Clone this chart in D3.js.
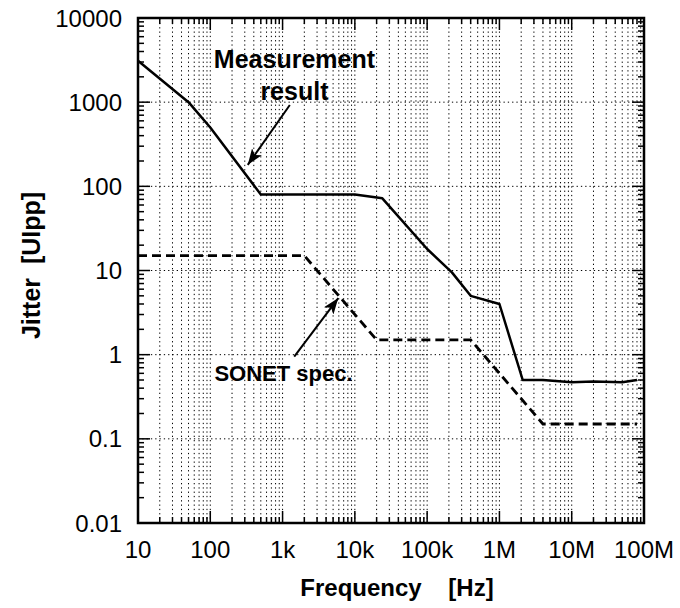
<!DOCTYPE html>
<html>
<head>
<meta charset="utf-8">
<script src="https://cdn.jsdelivr.net/npm/d3@7"></script>
<style>
  body { margin: 0; background: #fff; }
  text { font-family: "Liberation Sans", Arial, sans-serif; fill: #000; }
</style>
</head>
<body>
<div class="visual"></div>
<script>
// measured jitter tolerance
const freqMeas = [10, 50, 100, 500, 10000, 24000, 100000, 220000, 400000, 1e6, 2.1e6, 4e6, 1e7, 2e7, 5e7, 8e7];
const jitterMeas = [3100, 1000, 500, 80, 80, 72, 18, 9.5, 5, 4, 0.5, 0.5, 0.47, 0.48, 0.47, 0.5];

// SONET mask
const freqSonet = [10, 2000, 20000, 400000, 4e6, 8e7];
const jitterSonet = [15, 15, 1.5, 1.5, 0.15, 0.15];

const xTicks = [10, 100, 1e3, 1e4, 1e5, 1e6, 1e7, 1e8];
const xTickLabels = ["10", "100", "1k", "10k", "100k", "1M", "10M", "100M"];
const yTicks = [0.01, 0.1, 1, 10, 100, 1000, 10000];
const yTickLabels = ["0.01", "0.1", "1", "10", "100", "1000", "10000"];

// annotations in data coordinates: [freq, jitter]
const noteMeasText = ["Measurement", "result"];
const noteMeasPos = [[1460, 2550], [1460, 1060]];
const noteMeasArrow = [[1260, 925], [330, 180]];
const noteSonetText = "SONET spec.";
const noteSonetPos = [1030, 0.49];
const noteSonetArrow = [[1450, 0.95], [5900, 4.7]];

const width = 680, height = 608;
const margin = { left: 138, top: 18, right: 36, bottom: 85 };

const svg = d3.select(".visual").append("svg")
    .attr("width", width)
    .attr("height", height);

const x = d3.scaleLog().domain([10, 1e8]).range([margin.left, width - margin.right]);
const y = d3.scaleLog().domain([0.01, 10000]).range([height - margin.bottom, margin.top]);

const x0 = x.range()[0], x1 = x.range()[1];
const y0 = y.range()[0], y1 = y.range()[1];

// minor positions
const xMinor = [];
for (let d = 10; d < 1e8; d *= 10) {
    for (let k = 1; k <= 9; k++) xMinor.push(d * k);
}
xMinor.push(1e8);
const yMinor = [];
for (let d = 0.01; d < 10000; d *= 10) {
    for (let k = 1; k <= 9; k++) yMinor.push(+(d * k).toPrecision(3));
}
yMinor.push(10000);

// grid
const grid = svg.append("g");
grid.selectAll("line.vg")
    .data(xMinor.filter(v => v > 10 && v < 1e8))
    .enter()
    .append("line")
    .attr("x1", d => x(d)).attr("x2", d => x(d))
    .attr("y1", y0).attr("y2", y1)
    .attr("stroke", "#000")
    .attr("stroke-width", 1)
    .attr("stroke-dasharray", "1.3,3");

grid.selectAll("line.hg")
    .data(yTicks.filter(v => v > 0.01 && v < 10000))
    .enter()
    .append("line")
    .attr("x1", x0).attr("x2", x1)
    .attr("y1", d => y(d)).attr("y2", d => y(d))
    .attr("stroke", "#000")
    .attr("stroke-width", 1)
    .attr("stroke-dasharray", "1.3,3");

// data lines
const line = d3.line().x(d => x(d[0])).y(d => y(d[1]));

svg.append("path")
    .datum(freqSonet.map((f, i) => [f, jitterSonet[i]]))
    .attr("d", line)
    .attr("fill", "none")
    .attr("stroke", "#000")
    .attr("stroke-width", 2.8)
    .attr("stroke-dasharray", "9,5");

svg.append("path")
    .datum(freqMeas.map((f, i) => [f, jitterMeas[i]]))
    .attr("d", line)
    .attr("fill", "none")
    .attr("stroke", "#000")
    .attr("stroke-width", 2.5)
    .attr("stroke-linejoin", "round");

// frame and ticks
const isMajorX = v => xTicks.some(t => Math.abs(t - v) / t < 1e-6);
const isMajorY = v => yTicks.some(t => Math.abs(t - v) / t < 1e-6);

const ticks = svg.append("g").attr("stroke", "#000").attr("stroke-width", 1.5);
xMinor.forEach(v => {
    const len = isMajorX(v) ? 12 : 6;
    ticks.append("line").attr("x1", x(v)).attr("x2", x(v)).attr("y1", y0).attr("y2", y0 - len);
    ticks.append("line").attr("x1", x(v)).attr("x2", x(v)).attr("y1", y1).attr("y2", y1 + len);
});
yMinor.forEach(v => {
    const len = isMajorY(v) ? 12 : 6;
    ticks.append("line").attr("x1", x0).attr("x2", x0 + len).attr("y1", y(v)).attr("y2", y(v));
    ticks.append("line").attr("x1", x1).attr("x2", x1 - len).attr("y1", y(v)).attr("y2", y(v));
});

svg.append("rect")
    .attr("x", x0).attr("y", y1)
    .attr("width", x1 - x0).attr("height", y0 - y1)
    .attr("fill", "none")
    .attr("stroke", "#000")
    .attr("stroke-width", 2.5);

// tick labels
svg.selectAll("text.xl")
    .data(xTicks)
    .enter()
    .append("text")
    .attr("x", d => x(d))
    .attr("y", y0 + 35)
    .attr("text-anchor", "middle")
    .style("font-size", "24px")
    .text((d, i) => xTickLabels[i]);

svg.selectAll("text.yl")
    .data(yTicks)
    .enter()
    .append("text")
    .attr("x", x0 - 16)
    .attr("y", d => y(d))
    .attr("text-anchor", "end")
    .attr("dominant-baseline", "central")
    .style("font-size", "24px")
    .text((d, i) => yTickLabels[i]);

// axis titles
svg.append("text")
    .attr("x", 397)
    .attr("y", 596)
    .attr("text-anchor", "middle")
    .style("font-size", "24px")
    .style("font-weight", "bold")
    .style("white-space", "pre")
    .text("Frequency    [Hz]");

svg.append("text")
    .attr("transform", `translate(40, ${(y0 + y1) / 2 - 5}) rotate(-90)`)
    .attr("text-anchor", "middle")
    .style("font-size", "25px")
    .style("font-weight", "bold")
    .style("white-space", "pre")
    .text("Jitter  [UIpp]");

// annotations
svg.append("defs").append("marker")
    .attr("id", "arrow")
    .attr("viewBox", "0 0 16 12")
    .attr("refX", 16).attr("refY", 6)
    .attr("markerWidth", 16).attr("markerHeight", 12)
    .attr("markerUnits", "userSpaceOnUse")
    .attr("orient", "auto")
    .append("path")
    .attr("d", "M0,0 L16,6 L0,12 L4,6 Z")
    .attr("fill", "#000");

noteMeasText.forEach((t, i) => {
    svg.append("text")
        .attr("x", x(noteMeasPos[i][0]))
        .attr("y", y(noteMeasPos[i][1]))
        .attr("text-anchor", "middle")
        .style("font-size", "25px")
        .style("font-weight", "bold")
        .text(t);
});

svg.append("text")
    .attr("x", x(noteSonetPos[0]))
    .attr("y", y(noteSonetPos[1]))
    .attr("text-anchor", "middle")
    .style("font-size", "22px")
    .style("font-weight", "bold")
    .text(noteSonetText);

[noteMeasArrow, noteSonetArrow].forEach(a => {
    svg.append("line")
        .attr("x1", x(a[0][0])).attr("y1", y(a[0][1]))
        .attr("x2", x(a[1][0])).attr("y2", y(a[1][1]))
        .attr("stroke", "#000")
        .attr("stroke-width", 2)
        .attr("marker-end", "url(#arrow)");
});
</script>
</body>
</html>
